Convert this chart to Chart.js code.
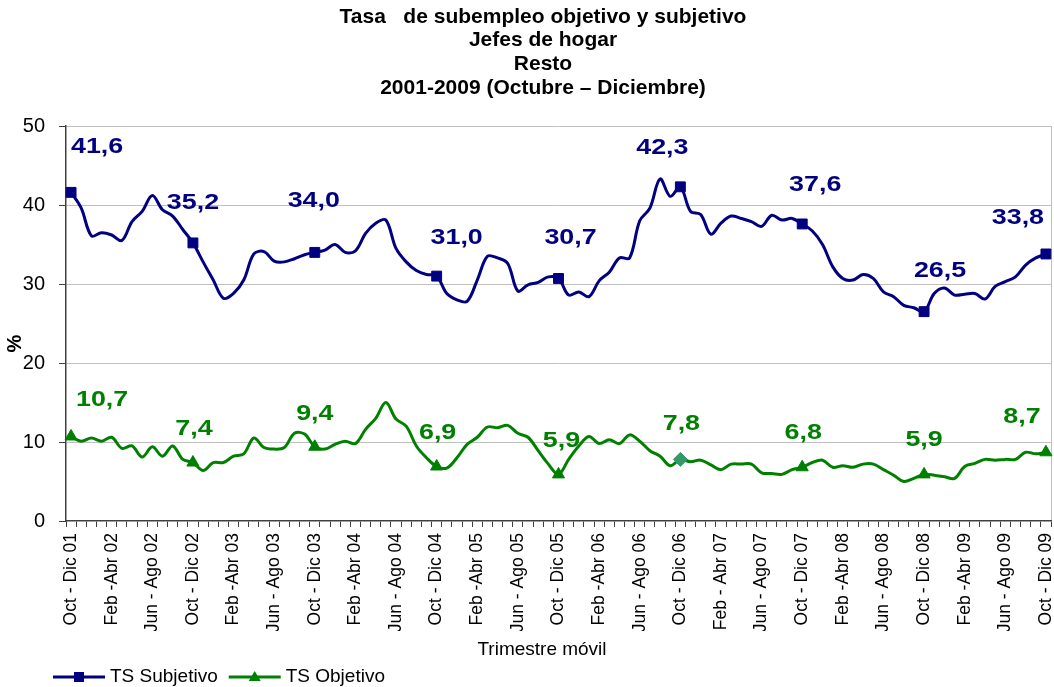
<!DOCTYPE html>
<html lang="es">
<head>
<meta charset="utf-8">
<title>Tasa de subempleo objetivo y subjetivo</title>
<script src="https://cdn.jsdelivr.net/npm/chart.js@4.4.1/dist/chart.umd.min.js"></script>
<style>
  html, body { margin: 0; padding: 0; background: #fff; }
  #grafico { display: block; }
</style>
</head>
<body>
<canvas id="grafico" width="1054" height="687"></canvas>
<script>
// --- DATOS: trimestres móviles oct-dic 2001 a oct-dic 2009 ---
const MESES_MOVILES = ["Oct - Dic", "Nov - Ene", "Dic - Feb", "Ene - Mar", "Feb - Abr", "Mar - May",
                       "Abr - Jun", "May - Jul", "Jun - Ago", "Jul - Sep", "Ago - Oct", "Sep - Nov"];

const subjetivo = [
  41.6, 39.6, 36.1, 36.5, 36.2, 35.5, 37.9, 39.2, 41.2, 39.4, 38.6, 36.9,
  35.2, 32.8, 30.5, 28.2, 28.8, 30.5, 33.8, 34.1, 32.9, 32.8, 33.2, 33.7,
  34.0, 34.3, 35.0, 34.0, 34.2, 36.4, 37.7, 38.1, 34.5, 32.8, 31.7, 31.2,
  31.0, 28.8, 28.0, 27.8, 30.5, 33.5, 33.3, 32.6, 29.1, 29.9, 30.2, 30.9,
  30.7, 28.6, 29.0, 28.4, 30.4, 31.5, 33.3, 33.3, 38.0, 39.6, 43.3, 41.1,
  42.3, 39.2, 38.8, 36.3, 37.7, 38.6, 38.3, 37.9, 37.3, 38.7, 38.1, 38.3,
  37.6, 36.7, 35.0, 32.2, 30.7, 30.5, 31.2, 30.7, 29.0, 28.4, 27.3, 27.0,
  26.5, 28.8, 29.5, 28.6, 28.7, 28.8, 28.1, 29.7, 30.3, 30.9, 32.4, 33.3,
  33.8
];

const objetivo = [
  10.7, 10.1, 10.5, 10.1, 10.6, 9.2, 9.5, 8.1, 9.4, 8.2, 9.5, 7.8,
  7.4, 6.4, 7.4, 7.4, 8.2, 8.5, 10.5, 9.3, 9.1, 9.3, 11.1, 11.0,
  9.4, 9.1, 9.7, 10.1, 9.8, 11.6, 13.0, 15.0, 12.9, 12.0, 9.5, 8.0,
  6.9, 6.7, 8.0, 9.7, 10.6, 11.9, 11.8, 12.1, 11.1, 10.6, 8.9, 7.2,
  5.9, 7.8, 9.5, 10.7, 9.8, 10.3, 9.8, 10.9, 10.1, 8.9, 8.2, 7.0,
  7.8, 7.5, 7.7, 7.1, 6.5, 7.2, 7.2, 7.2, 6.1, 6.0, 5.9, 6.5,
  6.8, 7.4, 7.7, 6.8, 7.0, 6.8, 7.2, 7.2, 6.5, 5.8, 5.0, 5.4,
  5.9, 5.8, 5.6, 5.4, 6.9, 7.3, 7.8, 7.7, 7.8, 7.8, 8.7, 8.5,
  8.7
];

// rótulos visibles del eje x (uno cada cuatro trimestres)
const etiquetasEje = [
  "Oct - Dic 01", "Feb -Abr 02", "Jun - Ago 02", "Oct - Dic 02", "Feb -Abr 03", "Jun - Ago 03",
  "Oct - Dic 03", "Feb -Abr 04", "Jun - Ago 04", "Oct - Dic 04", "Feb -Abr 05", "Jun - Ago 05",
  "Oct - Dic 05", "Feb -Abr 06", "Jun - Ago 06", "Oct - Dic 06", "Feb - Abr 07", "Jun - Ago 07",
  "Oct - Dic 07", "Feb -Abr 08", "Jun - Ago 08", "Oct - Dic 08", "Feb -Abr 09", "Jun - Ago 09",
  "Oct - Dic 09"
];

const ticksY = [0, 10, 20, 30, 40, 50];

const titulo = ["Tasa   de subempleo objetivo y subjetivo", "Jefes de hogar", "Resto", "2001-2009 (Octubre – Diciembre)"];

const categorias = subjetivo.map((_, i) =>
  MESES_MOVILES[i % 12] + " " + String(1 + Math.floor((11 + i) / 12)).padStart(2, "0"));

// --- ESTILO ---
const FUENTE = '"Liberation Sans", Arial, Helvetica, sans-serif';
const AZUL = "#000080";
const VERDE = "#008000";
const VERDE_MAR = "#339966";

// desplazamiento (px) de cada rótulo de valor respecto a su marcador
const despSubjetivo = [[26, -45], [0, -40], [-1, -51], [20, -38], [12, -41], [-18, -39], [13, -39], [16, -41], [-28, -36]];
const despObjetivo = [[31, -37], [1, -34], [0, -33], [1, -34], [3, -33], [1, -35], [1, -34], [0, -34], [-24, -35]];

const esMarcador = (c) => c.dataIndex % 12 === 0;

// rótulos con el valor de cada oct-dic
const rotulosValores = {
  id: "rotulosValores",
  afterDatasetsDraw(chart) {
    const ctx = chart.ctx;
    const desps = [despSubjetivo, despObjetivo];
    chart.data.datasets.forEach((ds, d) => {
      const meta = chart.getDatasetMeta(d);
      ctx.save();
      ctx.font = "bold 22px " + FUENTE;
      ctx.fillStyle = ds.borderColor;
      ctx.textAlign = "center";
      ctx.textBaseline = "middle";
      for (let i = 0; i < ds.data.length; i += 12) {
        const p = meta.data[i];
        const [dx, dy] = desps[d][i / 12];
        ctx.save();
        ctx.translate(p.x + dx, p.y + dy);
        ctx.scale(1.22, 1);
        ctx.fillText(ds.data[i].toFixed(1).replace(".", ","), 0, 0);
        ctx.restore();
      }
      ctx.restore();
    });
  }
};

// título, títulos de ejes y leyenda inferior
const rotulosExtra = {
  id: "rotulosExtra",
  afterDraw(chart) {
    const ctx = chart.ctx;
    const area = chart.chartArea;
    ctx.save();
    ctx.fillStyle = "#000";
    ctx.textBaseline = "middle";
    ctx.textAlign = "center";

    ctx.font = "bold 21px " + FUENTE;
    titulo.forEach((linea, i) => ctx.fillText(linea, 543, 17 + i * 23.7));

    ctx.font = "19px " + FUENTE;
    ctx.fillText("Trimestre móvil", 542, 650);

    ctx.save();
    ctx.translate(15, (area.top + area.bottom) / 2 + 20);
    ctx.rotate(-Math.PI / 2);
    ctx.font = "bold 20px " + FUENTE;
    ctx.fillText("%", 0, 0);
    ctx.restore();

    // leyenda
    const yLey = 677;
    let x = 53;
    ctx.textAlign = "left";
    ctx.font = "19px " + FUENTE;
    chart.data.datasets.forEach((ds) => {
      ctx.strokeStyle = ds.borderColor;
      ctx.fillStyle = ds.borderColor;
      ctx.lineWidth = 3;
      ctx.beginPath();
      ctx.moveTo(x, yLey);
      ctx.lineTo(x + 52, yLey);
      ctx.stroke();
      const cx = x + 26;
      ctx.beginPath();
      if (ds.marcaLeyenda === "cuadrado") {
        ctx.rect(cx - 5, yLey - 5, 10, 10);
      } else {
        ctx.moveTo(cx, yLey - 6);
        ctx.lineTo(cx + 6, yLey + 4);
        ctx.lineTo(cx - 6, yLey + 4);
        ctx.closePath();
      }
      ctx.fill();
      ctx.fillStyle = "#000";
      ctx.fillText(ds.label, x + 57, yLey);
      x += 57 + ctx.measureText(ds.label).width + 11;
    });
    ctx.restore();
  }
};

new Chart(document.getElementById("grafico"), {
  type: "line",
  data: {
    labels: categorias,
    datasets: [
      {
        label: "TS Subjetivo",
        data: subjetivo,
        marcaLeyenda: "cuadrado",
        borderColor: AZUL,
        backgroundColor: AZUL,
        borderWidth: 3,
        tension: 0.35,
        clip: false,
        pointStyle: "rect",
        pointRadius: (c) => esMarcador(c) ? 7 : 0,
        pointBackgroundColor: AZUL,
        pointBorderColor: AZUL,
        pointBorderWidth: 1
      },
      {
        label: "TS Objetivo",
        data: objetivo,
        marcaLeyenda: "triangulo",
        borderColor: VERDE,
        backgroundColor: VERDE,
        borderWidth: 3,
        tension: 0.35,
        clip: false,
        pointStyle: (c) => c.dataIndex === 60 ? "rectRot" : "triangle",
        pointRadius: (c) => esMarcador(c) ? 7 : 0,
        pointBackgroundColor: (c) => c.dataIndex === 60 ? VERDE_MAR : VERDE,
        pointBorderColor: (c) => c.dataIndex === 60 ? VERDE_MAR : VERDE,
        pointBorderWidth: 1
      }
    ]
  },
  options: {
    responsive: false,
    animation: false,
    devicePixelRatio: 1,
    layout: { autoPadding: false, padding: { left: 0, right: 3, top: 126, bottom: 56 } },
    plugins: {
      legend: { display: false },
      tooltip: { enabled: false },
      title: { display: false }
    },
    scales: {
      x: {
        offset: true,
        grid: {
          offset: true,
          drawOnChartArea: true,
          color: (c) => c.type === "tick" ? "rgba(0,0,0,0)" : "#c0c0c0",
          tickColor: "#404040",
          tickLength: 6
        },
        border: { color: "#404040", width: 1.5 },
        ticks: {
          autoSkip: false,
          maxRotation: 90,
          minRotation: 90,
          padding: 6,
          color: "#000",
          font: { family: FUENTE, size: 17.5 },
          callback: (v, i) => i % 4 === 0 ? etiquetasEje[i / 4] : ""
        },
        afterFit: (scale) => {
          scale.height = 110;
          // los rótulos girados no necesitan margen lateral extra
          scale.paddingLeft = 0;
          scale.paddingRight = 0;
        }
      },
      y: {
        min: ticksY[0],
        max: ticksY[ticksY.length - 1],
        grid: {
          color: (c) => c.tick && c.tick.value === 0 ? "rgba(0,0,0,0)" : "#c0c0c0",
          tickColor: "#404040",
          tickLength: 7
        },
        border: { color: "#404040", width: 1.5 },
        ticks: {
          stepSize: 10,
          padding: 14,
          color: "#000",
          font: { family: FUENTE, size: 20 }
        },
        afterFit: (scale) => { scale.width = 66; }
      }
    }
  },
  plugins: [rotulosValores, rotulosExtra]
});
</script>
</body>
</html>
